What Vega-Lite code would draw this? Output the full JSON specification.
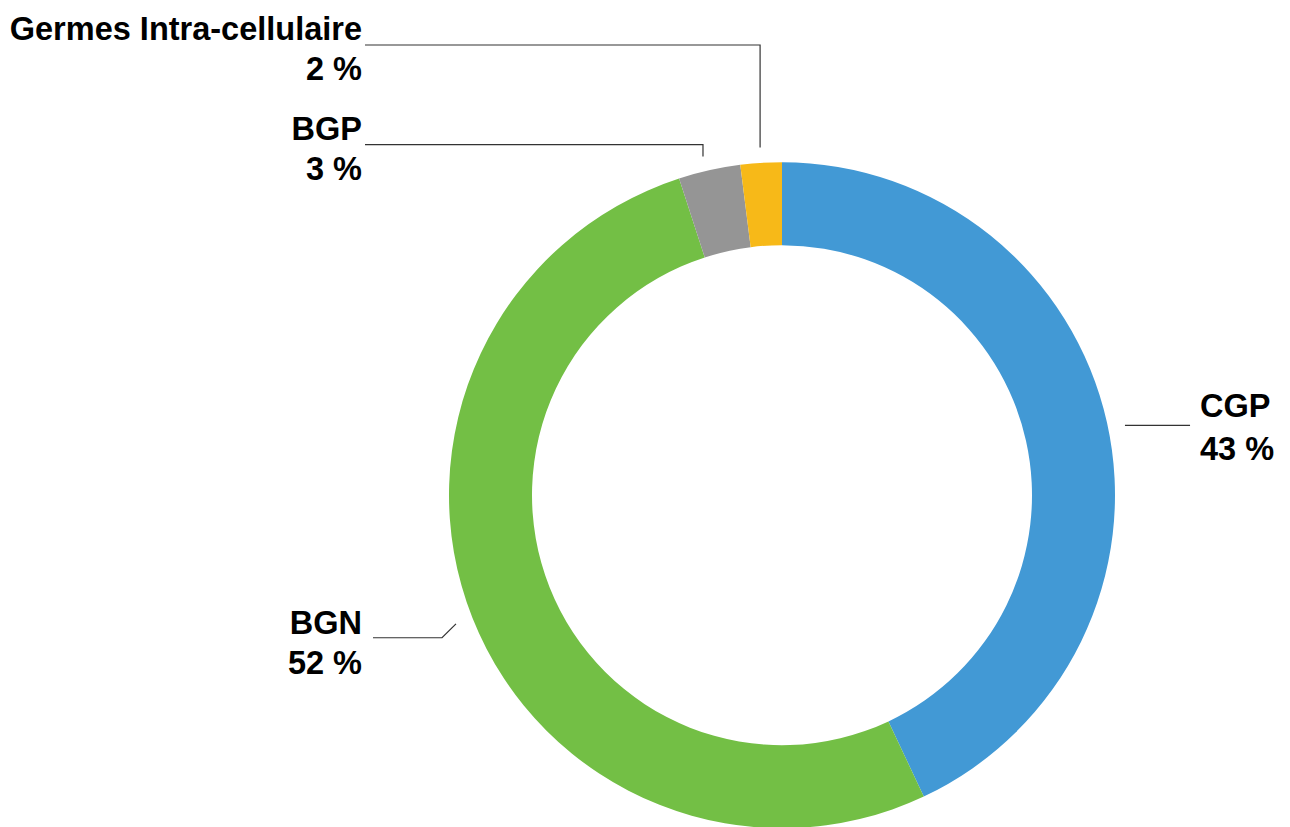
{
  "$schema": "https://vega.github.io/schema/vega-lite/v6.json",
  "width": 1290,
  "height": 827,
  "autosize": {"type": "fit", "contains": "padding"},
  "padding": 0,
  "background": "white",
  "config": {"view": {"stroke": null}},
  "datasets": {
    "slices": [
      {"name": "CGP", "pct": 43, "ord": 1},
      {"name": "BGN", "pct": 52, "ord": 2},
      {"name": "BGP", "pct": 3, "ord": 3},
      {"name": "Germes Intra-cellulaire", "pct": 2, "ord": 4}
    ],
    "labels": [
      {"name": "Germes Intra-cellulaire", "pct": 2, "lx": -1.265, "ly": 1.377, "side": "left"},
      {"name": "BGP", "pct": 3, "lx": -1.265, "ly": 1.075, "side": "left"},
      {"name": "CGP", "pct": 43, "lx": 1.259, "ly": 0.235, "side": "right"},
      {"name": "BGN", "pct": 52, "lx": -1.265, "ly": -0.419, "side": "left"}
    ],
    "leaders": [
      {"name": "Germes Intra-cellulaire", "seq": 1, "lx": -1.256, "ly": 1.361},
      {"name": "Germes Intra-cellulaire", "seq": 2, "lx": -0.066, "ly": 1.361},
      {"name": "Germes Intra-cellulaire", "seq": 3, "lx": -0.066, "ly": 1.051},
      {"name": "BGP", "seq": 1, "lx": -1.256, "ly": 1.06},
      {"name": "BGP", "seq": 2, "lx": -0.238, "ly": 1.06},
      {"name": "BGP", "seq": 3, "lx": -0.238, "ly": 1.024},
      {"name": "CGP", "seq": 1, "lx": 1.033, "ly": 0.211},
      {"name": "CGP", "seq": 2, "lx": 1.229, "ly": 0.211},
      {"name": "BGN", "seq": 1, "lx": -1.232, "ly": -0.431},
      {"name": "BGN", "seq": 2, "lx": -1.024, "ly": -0.431},
      {"name": "BGN", "seq": 3, "lx": -0.982, "ly": -0.389}
    ]
  },
  "layer": [
    {
      "data": {"name": "slices"},
      "mark": {"type": "arc", "outerRadius": 333, "innerRadius": 250},
      "encoding": {
        "x": {"datum": 0, "type": "quantitative", "scale": {"domain": [-2.3554, 1.5301]}, "axis": null},
        "y": {"datum": 0, "type": "quantitative", "scale": {"domain": [-0.994, 1.497]}, "axis": null},
        "theta": {"field": "pct", "type": "quantitative", "stack": true},
        "order": {"field": "ord", "type": "quantitative"},
        "color": {
          "field": "name",
          "type": "nominal",
          "scale": {
            "domain": ["CGP", "BGN", "BGP", "Germes Intra-cellulaire"],
            "range": ["#4299D5", "#73BF45", "#959595", "#F7B918"]
          },
          "legend": null
        }
      }
    },
    {
      "data": {"name": "leaders"},
      "mark": {"type": "line", "color": "#333333", "strokeWidth": 1.2},
      "encoding": {
        "x": {"field": "lx", "type": "quantitative", "scale": {"domain": [-2.3554, 1.5301]}, "axis": null},
        "y": {"field": "ly", "type": "quantitative", "scale": {"domain": [-0.994, 1.497]}, "axis": null},
        "detail": {"field": "name"},
        "order": {"field": "seq", "type": "quantitative"}
      }
    },
    {
      "data": {"name": "labels"},
      "transform": [
        {"filter": "datum.side == 'left'"},
        {"calculate": "datum.name + '\\n' + datum.pct + ' %'", "as": "txt"}
      ],
      "mark": {"type": "text", "align": "right", "baseline": "alphabetic", "font": "Liberation Sans", "fontWeight": "bold", "fontSize": 32.5, "lineBreak": "\n", "lineHeight": 40, "color": "#000000"},
      "encoding": {
        "x": {"field": "lx", "type": "quantitative", "scale": {"domain": [-2.3554, 1.5301]}, "axis": null},
        "y": {"field": "ly", "type": "quantitative", "scale": {"domain": [-0.994, 1.497]}, "axis": null},
        "text": {"field": "txt"}
      }
    },
    {
      "data": {"name": "labels"},
      "transform": [
        {"filter": "datum.side == 'right'"},
        {"calculate": "datum.name + '\\n' + datum.pct + ' %'", "as": "txt"}
      ],
      "mark": {"type": "text", "align": "left", "baseline": "alphabetic", "font": "Liberation Sans", "fontWeight": "bold", "fontSize": 32.5, "lineBreak": "\n", "lineHeight": 43, "color": "#000000"},
      "encoding": {
        "x": {"field": "lx", "type": "quantitative", "scale": {"domain": [-2.3554, 1.5301]}, "axis": null},
        "y": {"field": "ly", "type": "quantitative", "scale": {"domain": [-0.994, 1.497]}, "axis": null},
        "text": {"field": "txt"}
      }
    }
  ]
}
